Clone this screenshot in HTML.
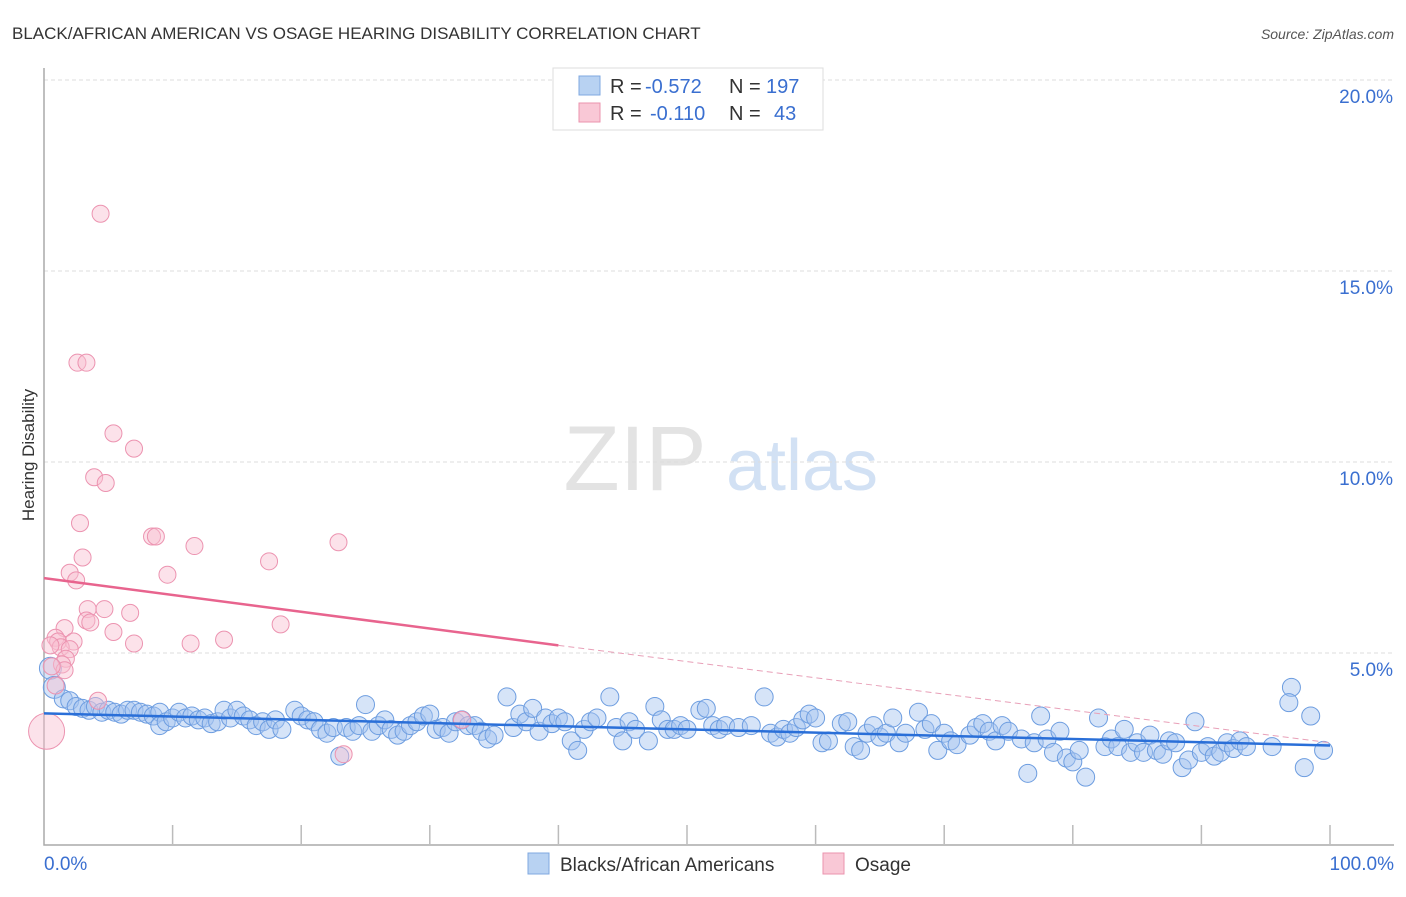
<!DOCTYPE html>
<html><head><meta charset="utf-8">
<style>
body{margin:0;background:#fff;font-family:"Liberation Sans",sans-serif;}
svg text{font-family:"Liberation Sans",sans-serif;}
</style></head><body>
<svg id="chart" width="1406" height="892" xmlns="http://www.w3.org/2000/svg">
<text x="12" y="39" font-size="17" fill="#333">BLACK/AFRICAN AMERICAN VS OSAGE HEARING DISABILITY CORRELATION CHART</text>
<text x="1394" y="39" font-size="14" fill="#555" font-style="italic" text-anchor="end">Source: ZipAtlas.com</text>
<g>
<text x="635" y="490" font-size="92" fill="#ddd" font-family="Liberation Serif" text-anchor="middle" opacity="0.8">ZIP</text>
<text x="802" y="490" font-size="72" fill="#c8daf2" text-anchor="middle" opacity="0.8">atlas</text>
</g>
<g id="grid"></g>
<g id="axes"></g>
<g id="points"></g>
<g id="trends"></g>
<text transform="translate(34,455) rotate(-90)" font-size="17" fill="#333" text-anchor="middle">Hearing Disability</text>
<g>
<rect x="553" y="68" width="270" height="62" fill="#fff" stroke="#ddd"/>
<rect x="579" y="76" width="21" height="19" fill="#b8d2f2" stroke="#7fa8e0"/>
<text x="610" y="93" font-size="20" fill="#333">R =</text>
<text x="645" y="93" font-size="20" fill="#3a6fd0">-0.572</text>
<text x="729" y="93" font-size="20" fill="#333">N =</text>
<text x="766" y="93" font-size="20" fill="#3a6fd0">197</text>
<rect x="579" y="103" width="21" height="19" fill="#f9c8d6" stroke="#eb93ae"/>
<text x="610" y="120" font-size="20" fill="#333">R =</text>
<text x="650" y="120" font-size="20" fill="#3a6fd0">-0.110</text>
<text x="729" y="120" font-size="20" fill="#333">N =</text>
<text x="774" y="120" font-size="20" fill="#3a6fd0">43</text>
</g>
<g>
<rect x="528" y="853" width="21" height="21" fill="#b8d2f2" stroke="#7fa8e0"/>
<text x="560" y="871" font-size="19" fill="#333">Blacks/African Americans</text>
<rect x="823" y="853" width="21" height="21" fill="#f9c8d6" stroke="#eb93ae"/>
<text x="855" y="871" font-size="19" fill="#333">Osage</text>
</g>
</svg>
<script>
const yTicks=[5,10,15,20];
const xTickLabels=["0.0%","100.0%"];
const blueTrend=[3.42,2.58];
const pinkTrend=[6.96,5.2,2.65];
const bluePts=[[0.5,4.6],[0.8,4.1],[1.5,3.8],[2,3.75],[2.5,3.6],[3,3.55],[3.5,3.5],[4,3.6],[4.5,3.45],[5,3.5],[5.5,3.45],[6,3.4],[6.5,3.5],[7,3.5],[7.5,3.45],[8,3.4],[8.5,3.35],[9,3.45],[9,3.1],[9.5,3.2],[10,3.3],[10.5,3.45],[11,3.3],[11.5,3.35],[12,3.25],[12.5,3.3],[13,3.15],[13.5,3.2],[14,3.5],[14.5,3.3],[15,3.5],[15.5,3.35],[16,3.25],[16.5,3.1],[17,3.2],[17.5,3.0],[18,3.25],[18.5,3.0],[19.5,3.5],[20,3.35],[20.5,3.25],[21,3.2],[21.5,3.0],[22,2.9],[22.5,3.05],[23,2.3],[23.5,3.05],[24,2.95],[24.5,3.1],[25,3.65],[25.5,2.95],[26,3.1],[26.5,3.25],[27,3.0],[27.5,2.85],[28,2.95],[28.5,3.1],[29,3.2],[29.5,3.35],[30,3.4],[30.5,3.0],[31,3.05],[31.5,2.9],[32,3.2],[32.5,3.25],[33,3.1],[33.5,3.1],[34,2.95],[34.5,2.75],[35,2.85],[36,3.85],[36.5,3.05],[37,3.4],[37.5,3.2],[38,3.55],[38.5,2.95],[39,3.3],[39.5,3.15],[40,3.3],[40.5,3.2],[41,2.7],[41.5,2.45],[42,3.0],[42.5,3.2],[43,3.3],[44,3.85],[44.5,3.05],[45,2.7],[45.5,3.2],[46,3.0],[47,2.7],[47.5,3.6],[48,3.25],[48.5,3.0],[49,3.0],[49.5,3.1],[50,3.0],[51,3.5],[51.5,3.55],[52,3.1],[52.5,3.0],[53,3.1],[54,3.05],[55,3.1],[56,3.85],[56.5,2.9],[57,2.8],[57.5,3.0],[58,2.9],[58.5,3.05],[59,3.25],[59.5,3.4],[60,3.3],[60.5,2.65],[61,2.7],[62,3.15],[62.5,3.2],[63,2.55],[63.5,2.45],[64,2.9],[64.5,3.1],[65,2.8],[65.5,2.9],[66,3.3],[66.5,2.65],[67,2.9],[68,3.45],[68.5,3.0],[69,3.15],[69.5,2.45],[70,2.9],[70.5,2.7],[71,2.6],[72,2.85],[72.5,3.05],[73,3.15],[73.5,2.95],[74,2.7],[74.5,3.1],[75,2.95],[76,2.75],[76.5,1.85],[77,2.65],[77.5,3.35],[78,2.75],[78.5,2.4],[79,2.95],[79.5,2.25],[80,2.15],[80.5,2.45],[81,1.75],[82,3.3],[82.5,2.55],[83,2.75],[83.5,2.55],[84,3.0],[84.5,2.4],[85,2.65],[85.5,2.4],[86,2.85],[86.5,2.45],[87,2.35],[87.5,2.7],[88,2.65],[88.5,2.0],[89,2.2],[89.5,3.2],[90,2.4],[90.5,2.55],[91,2.3],[91.5,2.4],[92,2.65],[92.5,2.5],[93,2.7],[93.5,2.55],[97,4.1],[96.8,3.7],[95.5,2.55],[98,2.0],[98.5,3.35],[99.5,2.45]];
const pinkPts=[[4.4,16.5],[2.6,12.6],[3.3,12.6],[5.4,10.75],[7,10.35],[3.9,9.6],[4.8,9.45],[2.8,8.4],[8.4,8.05],[8.7,8.05],[11.7,7.8],[22.9,7.9],[3,7.5],[17.5,7.4],[2,7.1],[2.5,6.9],[9.6,7.05],[3.4,6.15],[4.7,6.15],[6.7,6.05],[3.3,5.85],[3.6,5.8],[1.6,5.65],[5.4,5.55],[18.4,5.75],[0.9,5.4],[1.1,5.3],[2.3,5.3],[7,5.25],[11.4,5.25],[14,5.35],[1.3,5.15],[2,5.1],[1.7,4.85],[1.4,4.7],[1.6,4.55],[0.6,4.65],[4.2,3.75],[0.2,2.95],[23.3,2.35],[32.5,3.25],[0.9,4.15],[0.5,5.2]];
const NS="http://www.w3.org/2000/svg";
const X=v=>44+v*12.86, Y=v=>844-v*38.2;
function mk(t,a,p){const e=document.createElementNS(NS,t);for(const k in a)e.setAttribute(k,a[k]);p.appendChild(e);return e;}
const grid=document.getElementById('grid'),axes=document.getElementById('axes'),pts=document.getElementById('points'),tr=document.getElementById('trends');
yTicks.forEach(v=>{
 const l=mk('line',{x1:44,x2:1394,y1:Y(v),y2:Y(v),stroke:'#ddd','stroke-dasharray':'4,3'},grid);
 
 
 const t=mk('text',{x:1393,y:Y(v)+23,'font-size':19,fill:'#3a6fd0','text-anchor':'end'},axes);
 t.textContent=v.toFixed(1)+'%';
 
 
});
const ax=mk('path',{d:`M44,68V${Y(0)+1}H1394`,stroke:'#aaa',fill:'none','stroke-width':1.5},axes);


for(let i=1;i<=10;i++){const l=mk('line',{x1:X(i*10),x2:X(i*10),y1:Y(0)-19,y2:Y(0),stroke:'#bbb','stroke-width':1.5},axes);
 
 }
xTickLabels.forEach((s,i)=>{const t=mk('text',{x:i?1394:44,y:870,'font-size':19,fill:'#3a6fd0','text-anchor':i?'end':'start'},axes);t.textContent=s;
 
 });
bluePts.forEach(p=>{const c=mk('circle',{cx:X(p[0]),cy:Y(p[1]),r:p[0]<1?11:9,fill:'rgba(164,196,240,0.45)',stroke:'#6d9de0','stroke-width':1},pts);
 
 });
pinkPts.forEach(p=>{const c=mk('circle',{cx:X(p[0]),cy:Y(p[1]),r:p[0]<0.5&&p[1]<3.5?18:8.5,fill:'rgba(249,190,208,0.45)',stroke:'#ec93b0','stroke-width':1},pts);
 
 });
const bl=mk('line',{x1:X(0),y1:Y(blueTrend[0]),x2:X(100),y2:Y(blueTrend[1]),stroke:'#2a6fd8','stroke-width':2.5},tr);


const pl=mk('line',{x1:X(0),y1:Y(pinkTrend[0]),x2:X(40),y2:Y(pinkTrend[1]),stroke:'#e8648e','stroke-width':2.5},tr);


const pd=mk('line',{x1:X(40),y1:Y(pinkTrend[1]),x2:X(100),y2:Y(pinkTrend[2]),stroke:'#e8a0b8','stroke-width':1,'stroke-dasharray':'6,4'},tr);


</script>
</body></html>
